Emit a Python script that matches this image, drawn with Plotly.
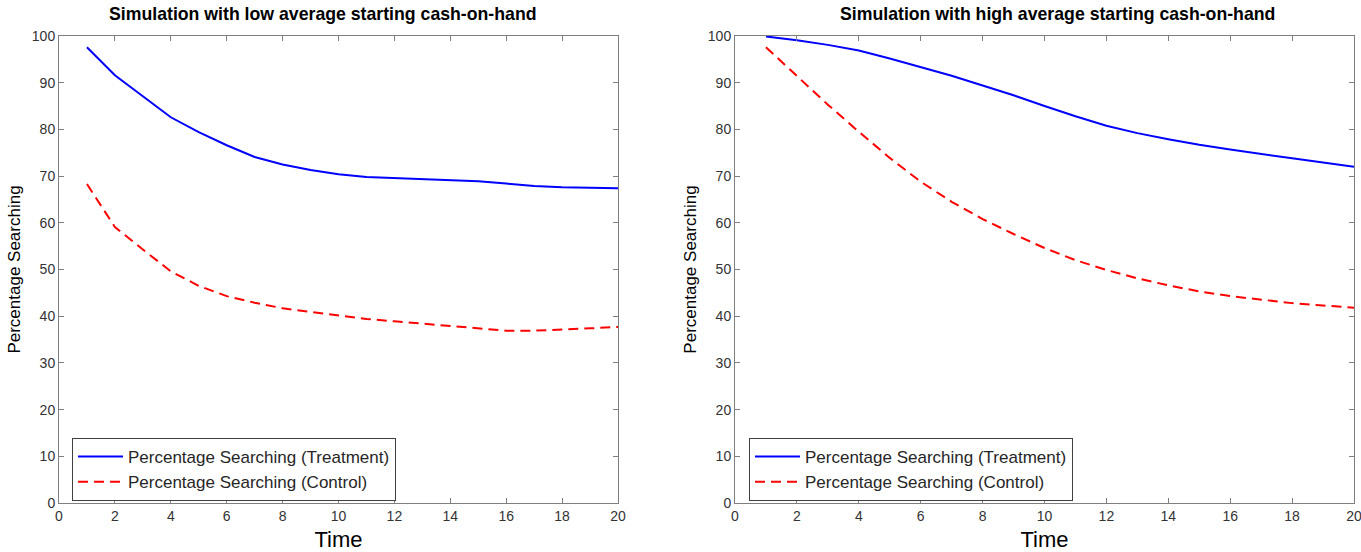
import plotly.graph_objects as go

time = list(range(1, 21))

low_treatment = [97.6, 91.6, 87.1, 82.6, 79.4, 76.6, 74.1, 72.5, 71.3, 70.4,
                 69.8, 69.6, 69.4, 69.1, 68.9, 68.4, 67.9, 67.6, 67.5, 67.4]
low_control = [68.3, 59.1, 54.3, 49.6, 46.5, 44.3, 42.9, 41.7, 40.9, 40.1,
               39.4, 38.9, 38.4, 37.8, 37.3, 36.9, 36.9, 37.1, 37.4, 37.7]

high_treatment = [99.9, 99.1, 98.1, 96.9, 95.2, 93.4, 91.5, 89.4, 87.3, 85.0,
                  82.8, 80.8, 79.2, 77.9, 76.7, 75.7, 74.7, 73.8, 72.9, 72.0]
high_control = [97.6, 91.5, 85.3, 79.5, 73.9, 68.8, 64.5, 60.8, 57.6, 54.6,
                52.0, 49.9, 48.1, 46.6, 45.3, 44.3, 43.5, 42.8, 42.3, 41.8]

titles = ["Simulation with low average starting cash-on-hand",
          "Simulation with high average starting cash-on-hand"]
treat_name = "Percentage Searching (Treatment)"
control_name = "Percentage Searching (Control)"
x_ticks = list(range(0, 21, 2))
y_ticks = list(range(0, 101, 10))

W, H = 1361, 552
FONT = "Liberation Sans, Arial, sans-serif"
AXCOL = "#7f7f7f"
TXT = "#333333"

fig = go.Figure()

panels = [
    ("x", "y", "legend", low_treatment, low_control),
    ("x2", "y2", "legend2", high_treatment, high_control),
]
for xa, ya, lg, tr, ct in panels:
    fig.add_trace(go.Scatter(x=time, y=tr, mode="lines", name=treat_name,
                             xaxis=xa, yaxis=ya, legend=lg,
                             line=dict(color="#0000ff", width=2)))
    fig.add_trace(go.Scatter(x=time, y=ct, mode="lines", name=control_name,
                             xaxis=xa, yaxis=ya, legend=lg,
                             line=dict(color="#ff0000", width=2, dash="10px,6px")))

y_dom = [1 - 503 / H, 1 - 36 / H]
x_doms = [[59 / W, 618 / W], [735 / W, 1354 / W]]
title_cx = [323 / W, 1057 / W]

common_x = dict(range=[0, 20], tickvals=x_ticks, ticks="inside", ticklen=5,
                tickcolor=AXCOL, showline=True, linecolor=AXCOL, linewidth=1,
                mirror="ticks", showgrid=False, zeroline=False, automargin=False,
                ticklabeloverflow="allow",
                tickfont=dict(family=FONT, size=14, color=TXT),
                title=dict(text="Time", font=dict(family=FONT, size=22, color="#000"),
                           standoff=8))
common_y = dict(range=[0, 100], tickvals=y_ticks, ticks="inside", ticklen=5,
                tickcolor=AXCOL, showline=True, linecolor=AXCOL, linewidth=1,
                mirror="ticks", showgrid=False, zeroline=False, automargin=False,
                ticklabeloverflow="allow",
                tickfont=dict(family=FONT, size=14, color=TXT),
                title=dict(text="Percentage Searching",
                           font=dict(family=FONT, size=17, color="#000"), standoff=6))

legend_common = dict(yanchor="top", xanchor="left", bgcolor="white",
                     bordercolor="#404040", borderwidth=1,
                     font=dict(family=FONT, size=17, color="#262626"),
                     tracegroupgap=0, itemwidth=45)

fig.update_layout(
    width=W, height=H,
    margin=dict(l=0, r=0, t=0, b=0),
    paper_bgcolor="white", plot_bgcolor="white",
    xaxis=dict(domain=x_doms[0], anchor="y", **common_x),
    yaxis=dict(domain=y_dom, anchor="x", **common_y),
    xaxis2=dict(domain=x_doms[1], anchor="y2", **common_x),
    yaxis2=dict(domain=y_dom, anchor="x2", **common_y),
    legend=dict(x=72 / W, y=1 - 438 / H, **legend_common),
    legend2=dict(x=749 / W, y=1 - 438 / H, **legend_common),
    showlegend=True,
)

for i, t in enumerate(titles):
    fig.add_annotation(text="<b>" + t + "</b>", x=title_cx[i], y=1 - 14 / H,
                       xref="paper", yref="paper", xanchor="center", yanchor="middle",
                       showarrow=False, font=dict(family=FONT, size=17.7, color="#000"))

fig.write_html("out.html")
